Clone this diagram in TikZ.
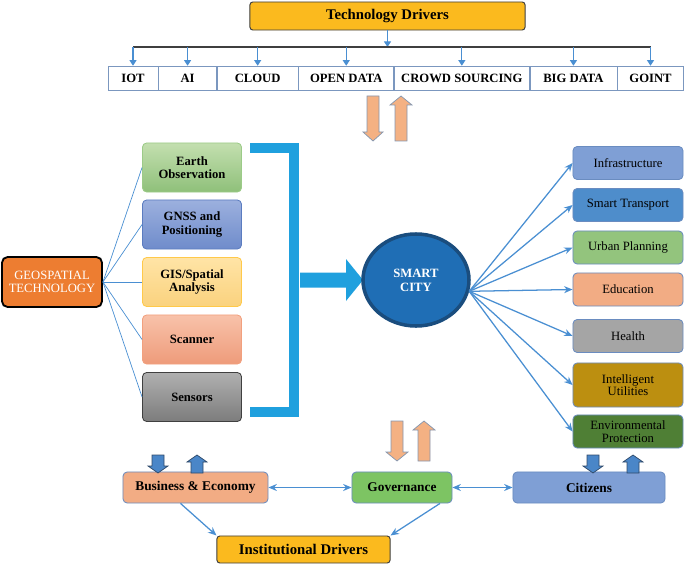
\documentclass[tikz,border=0pt]{standalone}
\usepackage{fontspec}
\setmainfont{Liberation Serif}
\usetikzlibrary{arrows.meta, shapes.geometric, positioning, calc}

\definecolor{drvyellow}{HTML}{FBBA1E}
\definecolor{drvline}{HTML}{3F3F3F}
\definecolor{cellline}{HTML}{7B97BF}
\definecolor{linkblue}{HTML}{4A8FD2}
\definecolor{geoorange}{HTML}{ED7D31}
\definecolor{bracketblue}{HTML}{1FA0DE}
\definecolor{cityblue}{HTML}{1F6EB5}
\definecolor{cityline}{HTML}{1A4D7E}
\definecolor{peach}{HTML}{F4B183}
\definecolor{peachline}{HTML}{8497B0}
\definecolor{smallblue}{HTML}{4A86C8}
\definecolor{smallline}{HTML}{2F4A6A}
\definecolor{appline}{HTML}{6A8CC0}
\definecolor{infrablue}{HTML}{7F9FD5}
\definecolor{transblue}{HTML}{4E8DCB}
\definecolor{urbangreen}{HTML}{93C47D}
\definecolor{edusalmon}{HTML}{F2AC84}
\definecolor{healthgrey}{HTML}{A5A5A5}
\definecolor{utilgold}{HTML}{BC8F10}
\definecolor{envgreen}{HTML}{4F7F35}
\definecolor{govgreen}{HTML}{7DC463}
\definecolor{earthtop}{HTML}{C3DFAF}
\definecolor{earthbot}{HTML}{8FC07A}
\definecolor{earthline}{HTML}{9CCB88}
\definecolor{gnsstop}{HTML}{9CB0DE}
\definecolor{gnssbot}{HTML}{6F8CCB}
\definecolor{gnssline}{HTML}{5B7CC0}
\definecolor{gistop}{HTML}{FFE4A6}
\definecolor{gisbot}{HTML}{FAD27E}
\definecolor{gisline}{HTML}{FFC94A}
\definecolor{scantop}{HTML}{F8C2AA}
\definecolor{scanbot}{HTML}{EE9B7A}
\definecolor{scanline}{HTML}{F2A07E}
\definecolor{sensortop}{HTML}{B0B0B0}
\definecolor{sensorbot}{HTML}{7C7C7C}
\definecolor{sensorline}{HTML}{404040}

\begin{document}
\begin{tikzpicture}[x=0.025cm, y=-0.025cm,
  pics/blockarrow/.style args={#1/#2/#3/#4}{code={
    \path[pic actions] (-#2,0) -- (#2,0) -- (#2,#1-#4) -- (#3,#1-#4) -- (0,#1)
      -- (-#3,#1-#4) -- (-#2,#1-#4) -- cycle;}}]
\useasboundingbox (0,0) rectangle (685,565);
\tikzstyle{driver}=[draw=drvline, fill=drvyellow, rounded corners=2pt, line width=0.7pt, font=\fontsize{10.5}{12}\selectfont\bfseries]
\tikzstyle{cell}=[draw=cellline, minimum height=0.6cm, inner sep=0pt, font=\fontsize{9}{11}\selectfont\bfseries]
\tikzstyle{drop}=[linkblue, line width=0.8pt, -{Triangle[length=4pt,width=5pt]}]
\tikzstyle{geo}=[draw=black, line width=1.3pt, fill=geoorange, rounded corners=4pt, minimum width=2.5cm, minimum height=1.25cm, align=center, text=white, font=\fontsize{9}{9.5}\selectfont]
\tikzstyle{tool}=[rounded corners=3pt, line width=0.6pt, minimum width=2.475cm, minimum height=1.225cm, align=center, font=\fontsize{9}{9.5}\selectfont\bfseries]
\tikzstyle{link}=[draw=linkblue, line width=0.5pt]
\tikzstyle{app}=[draw=appline, rounded corners=3pt, line width=0.6pt, minimum width=2.75cm, minimum height=0.825cm, align=center, font=\fontsize{9}{9}\selectfont]
\tikzstyle{feed}=[linkblue, line width=0.9pt, -{Stealth[length=6pt,width=5pt]}]
\tikzstyle{both}=[linkblue, line width=0.9pt, {Stealth[length=6pt,width=5pt]}-{Stealth[length=6pt,width=5pt]}]
\tikzstyle{sector}=[draw=appline, rounded corners=3pt, line width=0.6pt, minimum height=0.775cm, font=\fontsize{9.5}{11}\selectfont\bfseries]
\tikzstyle{peacharrow}=[fill=peach, draw=peachline, line width=0.5pt]
\tikzstyle{bluearrow}=[fill=smallblue, draw=smallline, line width=0.5pt]

\node[driver, minimum width=6.875cm, minimum height=0.7cm] (techdrv) at (387.5,16) {Technology Drivers};
\coordinate (hub) at (387.5,47);
\node[cell, minimum width=1.25cm] (iot) at (133,78) {IOT};
\node[cell, minimum width=1.45cm, right=0pt of iot] (ai) {AI};
\node[cell, minimum width=2.025cm, right=0pt of ai] (cloud) {CLOUD};
\node[cell, minimum width=2.375cm, right=0pt of cloud] (opendata) {OPEN DATA};
\node[cell, minimum width=3.375cm, right=0pt of opendata] (crowd) {CROWD SOURCING};
\node[cell, minimum width=2.175cm, right=0pt of crowd] (bigdata) {BIG DATA};
\node[cell, minimum width=1.65cm, right=0pt of bigdata] (goint) {GOINT};
\draw[drop] (techdrv.south) -- (hub);
\draw[drvline, line width=1pt] (iot.north |- hub) -- (goint.north |- hub);
\foreach \c in {iot,ai,cloud,opendata,crowd,bigdata,goint}
  \draw[drop] (\c.north |- hub) -- (\c.north);

\pic[peacharrow] at (373,96) {blockarrow=45/6/10/9};
\pic[peacharrow, rotate=180] at (401,141) {blockarrow=45/6/11/9};

\node[geo] (geotech) at (52,282) {GEOSPATIAL\\TECHNOLOGY};
\node[tool, top color=earthtop, bottom color=earthbot, draw=earthline] (earth) at (192,167.5) {Earth\\Observation};
\node[tool, top color=gnsstop, bottom color=gnssbot, draw=gnssline] (gnss) at (192,224.5) {GNSS and\\Positioning};
\node[tool, top color=gistop, bottom color=gisbot, draw=gisline] (gis) at (192,282) {GIS/Spatial\\Analysis};
\node[tool, top color=scantop, bottom color=scanbot, draw=scanline] (scanner) at (192,339.5) {Scanner};
\node[tool, top color=sensortop, bottom color=sensorbot, draw=sensorline] (sensors) at (192,397) {Sensors};
\foreach \b in {earth,gnss,gis,scanner,sensors}
  \draw[link] (geotech.east) -- (\b.west);

\draw[bracketblue, line width=7pt] (250,148) -| (294,412) -- (250,412);
\pic[fill=bracketblue, rotate=90] at (300,280) {blockarrow=63/7.5/21/17};

\node[ellipse, fill=cityblue, draw=cityline, line width=2.5pt, minimum width=2.65cm, minimum height=2.3cm, align=center, text=white, font=\fontsize{9}{10}\selectfont\bfseries] (city) at (416,280) {SMART\\CITY};

\node[app, fill=infrablue] (infra) at (628,163) {Infrastructure};
\node[app, fill=transblue] (transport) at (628,205) {Smart Transport};
\node[app, fill=urbangreen] (urban) at (628,247.5) {Urban Planning};
\node[app, fill=edusalmon] (education) at (628,289.5) {Education};
\node[app, fill=healthgrey] (health) at (628,336) {Health};
\node[app, fill=utilgold, minimum height=1.1cm] (utilities) at (628,385) {Intelligent\\Utilities};
\node[app, fill=envgreen] (environment) at (628,431.5) {Environmental\\Protection};
\foreach \b in {infra,transport,urban,education,health,utilities,environment}
  \draw[feed] (city.-12) -- (\b.west);

\pic[peacharrow] at (397,421) {blockarrow=40/6/11/9};
\pic[peacharrow, rotate=180] at (424,461) {blockarrow=40/6/11/9};

\node[sector, fill=edusalmon, minimum width=3.625cm] (business) at (195.5,487.5) {Business \& Economy};
\node[sector, fill=govgreen, minimum width=2.5cm] (governance) at (402,487.5) {Governance};
\node[sector, fill=infrablue, minimum width=3.8cm] (citizens) at (589,487.5) {Citizens};
\node[driver, minimum width=4.325cm, minimum height=0.675cm] (instdrv) at (303.5,549.5) {Institutional Drivers};

\pic[bluearrow] at (158,455) {blockarrow=18/6/10/7};
\pic[bluearrow, rotate=180] at (197,473) {blockarrow=18/6/10/7};
\pic[bluearrow] at (593,455) {blockarrow=18/6/10/7};
\pic[bluearrow, rotate=180] at (633,473) {blockarrow=18/6/10/7};

\draw[both] (business) -- (governance);
\draw[both] (governance) -- (citizens);
\draw[feed] ($(business.south)+(-15,0)$) -- (instdrv.north west);
\draw[feed] ($(governance.south)+(38,0)$) -- (instdrv.north east);
\end{tikzpicture}
\end{document}
